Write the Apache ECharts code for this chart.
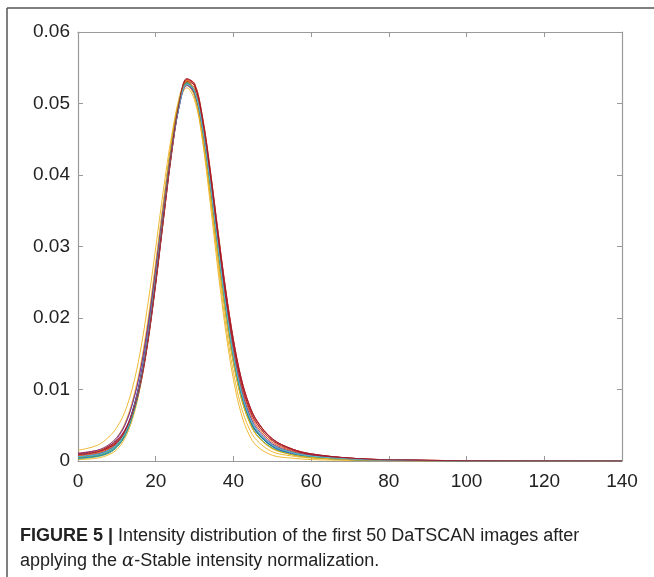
<!DOCTYPE html>
<html>
<head>
<meta charset="utf-8">
<script src="https://cdn.jsdelivr.net/npm/echarts@6/dist/echarts.min.js"></script>
<style>
  html, body { margin: 0; padding: 0; background: #fff; }
  #chart { width: 654px; height: 577px; }
</style>
</head>
<body>
<div id="chart"></div>
<script>
// Intensity values (x) at which each curve was read
const xValues = [0, 5, 8, 10, 12, 14, 16, 18, 20, 22, 24, 26, 28, 30, 32, 34, 36, 38, 40, 42, 44, 46, 50, 55, 60, 70, 80, 100, 140];

const c01 = [0.0005,0.0009,0.0015,0.0023,0.0039,0.0068,0.0112,0.0177,0.0260,0.0351,0.0436,0.0499,0.0528,0.0514,0.0462,0.0383,0.0295,0.0212,0.0143,0.0093,0.0060,0.0040,0.0021,0.0011,0.0007,0.0003,0.00013,0.00004,0.00001];
const c02 = [0.0008,0.0012,0.0018,0.0026,0.0040,0.0066,0.0107,0.0170,0.0252,0.0343,0.0431,0.0499,0.0533,0.0525,0.0477,0.0401,0.0314,0.0232,0.0162,0.0109,0.0074,0.0052,0.0028,0.0015,0.0009,0.0004,0.00016,0.00005,0.00001];
const c03 = [0.0002,0.0004,0.0009,0.0016,0.0031,0.0058,0.0103,0.0170,0.0258,0.0355,0.0445,0.0508,0.0532,0.0512,0.0450,0.0362,0.0268,0.0182,0.0114,0.0066,0.0037,0.0021,0.0008,0.0004,0.0002,0.00008,0.00003,0.00001,0];
const c04 = [0.0008,0.0013,0.0021,0.0031,0.0049,0.0080,0.0126,0.0192,0.0273,0.0360,0.0440,0.0499,0.0526,0.0511,0.0458,0.0379,0.0292,0.0210,0.0142,0.0093,0.0061,0.0041,0.0021,0.0011,0.0007,0.0003,0.00013,0.00004,0.00001];
const c05 = [0.0004,0.0007,0.0013,0.0021,0.0037,0.0066,0.0112,0.0179,0.0264,0.0356,0.0441,0.0503,0.0530,0.0513,0.0458,0.0377,0.0288,0.0205,0.0137,0.0088,0.0056,0.0036,0.0018,0.0009,0.0005,0.0002,0.00009,0.00003,0.00001];
const c06 = [0.0005,0.0008,0.0014,0.0022,0.0038,0.0067,0.0111,0.0175,0.0256,0.0346,0.0431,0.0495,0.0526,0.0516,0.0467,0.0390,0.0303,0.0219,0.0149,0.0097,0.0063,0.0042,0.0022,0.0012,0.0007,0.0003,0.00012,0.00004,0.00001];
const c07 = [0.0009,0.0013,0.0019,0.0026,0.0039,0.0064,0.0104,0.0166,0.0247,0.0338,0.0427,0.0497,0.0534,0.0528,0.0482,0.0408,0.0322,0.0240,0.0170,0.0116,0.0080,0.0057,0.0031,0.0017,0.0010,0.0004,0.00018,0.00005,0.00001];
const c08 = [0.0006,0.0010,0.0016,0.0025,0.0041,0.0070,0.0115,0.0180,0.0262,0.0352,0.0436,0.0498,0.0527,0.0514,0.0463,0.0385,0.0298,0.0215,0.0146,0.0095,0.0062,0.0042,0.0022,0.0012,0.0007,0.0003,0.00013,0.00004,0.00001];
const c09 = [0.0010,0.0014,0.0020,0.0028,0.0042,0.0067,0.0107,0.0168,0.0248,0.0338,0.0426,0.0496,0.0533,0.0528,0.0483,0.0409,0.0323,0.0240,0.0169,0.0115,0.0079,0.0056,0.0031,0.0017,0.0010,0.0004,0.00018,0.00005,0.00001];
const c10 = [0.0015,0.0022,0.0034,0.0047,0.0068,0.0102,0.0152,0.0220,0.0298,0.0380,0.0452,0.0502,0.0522,0.0505,0.0452,0.0370,0.0278,0.0192,0.0124,0.0076,0.0046,0.0029,0.0013,0.0007,0.0004,0.00015,0.00006,0.00002,0];
const c11 = [0.0005,0.0009,0.0015,0.0024,0.0040,0.0069,0.0114,0.0179,0.0261,0.0351,0.0435,0.0498,0.0528,0.0516,0.0466,0.0388,0.0300,0.0217,0.0147,0.0096,0.0063,0.0042,0.0022,0.0012,0.0007,0.0003,0.00013,0.00004,0.00001];
const c12 = [0.0003,0.0006,0.0011,0.0019,0.0034,0.0062,0.0107,0.0174,0.0259,0.0352,0.0439,0.0502,0.0531,0.0516,0.0462,0.0381,0.0292,0.0208,0.0139,0.0089,0.0057,0.0037,0.0018,0.0009,0.0005,0.0002,0.00009,0.00003,0.00001];
const c13 = [0.0004,0.0007,0.0013,0.0021,0.0036,0.0064,0.0108,0.0172,0.0253,0.0343,0.0429,0.0494,0.0527,0.0519,0.0472,0.0396,0.0309,0.0225,0.0154,0.0101,0.0066,0.0044,0.0023,0.0012,0.0007,0.0003,0.00012,0.00004,0.00001];
const c14 = [0.0011,0.0015,0.0021,0.0029,0.0043,0.0068,0.0108,0.0169,0.0249,0.0339,0.0427,0.0496,0.0531,0.0525,0.0480,0.0406,0.0320,0.0238,0.0168,0.0115,0.0079,0.0056,0.0031,0.0017,0.0010,0.0004,0.00017,0.00005,0.00001];
const c15 = [0.0004,0.0007,0.0012,0.0020,0.0035,0.0063,0.0108,0.0174,0.0257,0.0349,0.0435,0.0499,0.0529,0.0517,0.0466,0.0387,0.0298,0.0214,0.0144,0.0093,0.0060,0.0040,0.0020,0.0010,0.0006,0.0002,0.0001,0.00003,0.00001];
const c16 = [0.0007,0.0011,0.0017,0.0025,0.0040,0.0067,0.0109,0.0173,0.0255,0.0346,0.0433,0.0499,0.0531,0.0521,0.0472,0.0395,0.0308,0.0226,0.0156,0.0105,0.0071,0.0049,0.0026,0.0014,0.0008,0.0003,0.00015,0.00005,0.00001];
const c17 = [0.0009,0.0014,0.0023,0.0033,0.0052,0.0084,0.0131,0.0197,0.0278,0.0364,0.0443,0.0501,0.0526,0.0510,0.0456,0.0376,0.0288,0.0205,0.0137,0.0088,0.0056,0.0036,0.0017,0.0009,0.0005,0.0002,0.00008,0.00003,0.00001];
const c18 = [0.0010,0.0015,0.0023,0.0033,0.0050,0.0080,0.0125,0.0189,0.0269,0.0354,0.0434,0.0495,0.0525,0.0515,0.0467,0.0391,0.0305,0.0222,0.0152,0.0101,0.0067,0.0046,0.0024,0.0013,0.0008,0.0003,0.00014,0.00004,0.00001];
const c19 = [0.0005,0.0008,0.0014,0.0022,0.0037,0.0065,0.0109,0.0174,0.0257,0.0348,0.0434,0.0498,0.0529,0.0518,0.0469,0.0391,0.0303,0.0219,0.0148,0.0097,0.0063,0.0042,0.0022,0.0012,0.0007,0.0003,0.00012,0.00004,0.00001];
const c20 = [0.0006,0.0009,0.0015,0.0023,0.0038,0.0066,0.0110,0.0175,0.0257,0.0347,0.0432,0.0496,0.0527,0.0517,0.0468,0.0390,0.0302,0.0218,0.0148,0.0097,0.0063,0.0043,0.0022,0.0012,0.0007,0.0003,0.00012,0.00004,0.00001];
const c21 = [0.0009,0.0013,0.0019,0.0027,0.0041,0.0067,0.0108,0.0171,0.0253,0.0344,0.0432,0.0500,0.0535,0.0526,0.0478,0.0402,0.0315,0.0232,0.0162,0.0110,0.0075,0.0053,0.0029,0.0016,0.0009,0.0004,0.00016,0.00005,0.00001];

const curves = [c01,c02,c03,c04,c05,c06,c07,c08,c09,c10,c11,c12,c13,c14,c15,c16,c17,c18,c19,c20,c21];

const xTicks = [0, 20, 40, 60, 80, 100, 120, 140];
const yTicks = ['0', '0.01', '0.02', '0.03', '0.04', '0.05', '0.06'];

const palette = ['#0072BD','#D95319','#EDB120','#7E2F8E','#77AC30','#4DBEEE','#A2142F'];

const FONT = '"Liberation Sans", Arial, Helvetica, sans-serif';
const chart = echarts.init(document.getElementById('chart'), null, { renderer: 'canvas' });

const axisLineStyle = { color: '#9a9a9a', width: 1.2 };
const tickStyle = { show: true, inside: true, length: 5, lineStyle: { color: '#9a9a9a' } };

const series = curves.map((arr, i) => ({
  type: 'line',
  xAxisIndex: 0,
  yAxisIndex: 0,
  data: arr.map((v, k) => [xValues[k], v]),
  smooth: 0.35,
  showSymbol: false,
  symbol: 'none',
  silent: true,
  lineStyle: { width: 0.9, color: palette[i % palette.length] },
  z: 2
}));

chart.setOption({
  animation: false,
  backgroundColor: '#fff',
  grid: { left: 78, right: 32, top: 32, bottom: 116, containLabel: false },
  xAxis: [
    {
      type: 'value', position: 'bottom', min: 0, max: 140, interval: 20,
      axisLine: { show: true, lineStyle: axisLineStyle },
      axisTick: tickStyle,
      splitLine: { show: false },
      axisLabel: { color: '#222', fontSize: 19, fontFamily: FONT, margin: 11,
        formatter: (v) => String(xTicks[Math.round(v / 20)]) }
    },
    {
      type: 'value', position: 'top', min: 0, max: 140, interval: 20,
      axisLine: { show: true, onZero: false, lineStyle: axisLineStyle },
      axisTick: tickStyle,
      splitLine: { show: false },
      axisLabel: { show: false }
    }
  ],
  yAxis: [
    {
      type: 'value', position: 'left', min: 0, max: 0.06, interval: 0.01,
      axisLine: { show: true, lineStyle: axisLineStyle },
      axisTick: tickStyle,
      splitLine: { show: false },
      axisLabel: {
        color: '#222', fontSize: 19, fontFamily: FONT, margin: 8,
        formatter: (v) => yTicks[Math.round(v / 0.01)]
      }
    },
    {
      type: 'value', position: 'right', min: 0, max: 0.06, interval: 0.01,
      axisLine: { show: true, onZero: false, lineStyle: axisLineStyle },
      axisTick: tickStyle,
      splitLine: { show: false },
      axisLabel: { show: false }
    }
  ],
  graphic: [
    { type: 'line', shape: { x1: 7, y1: 8, x2: 654, y2: 8 }, style: { stroke: '#555', lineWidth: 1.5 }, silent: true },
    { type: 'line', shape: { x1: 7, y1: 8, x2: 7, y2: 577 }, style: { stroke: '#555', lineWidth: 1.5 }, silent: true },
    {
      type: 'text', left: 20, top: 524, silent: true,
      style: {
        text: '{b|FIGURE 5 |} Intensity distribution of the first 50 DaTSCAN images after\napplying the {i|α}-Stable intensity normalization.',
        fill: '#222', font: '18px ' + FONT, lineHeight: 25,
        rich: {
          b: { fontWeight: 'bold', fontSize: 18, fontFamily: FONT, fill: '#222', lineHeight: 25 },
          i: { fontStyle: 'italic', fontSize: 18, fontFamily: '"DejaVu Serif", serif', fill: '#222', lineHeight: 25 }
        }
      }
    }
  ],
  series: series
});
</script>
</body>
</html>
